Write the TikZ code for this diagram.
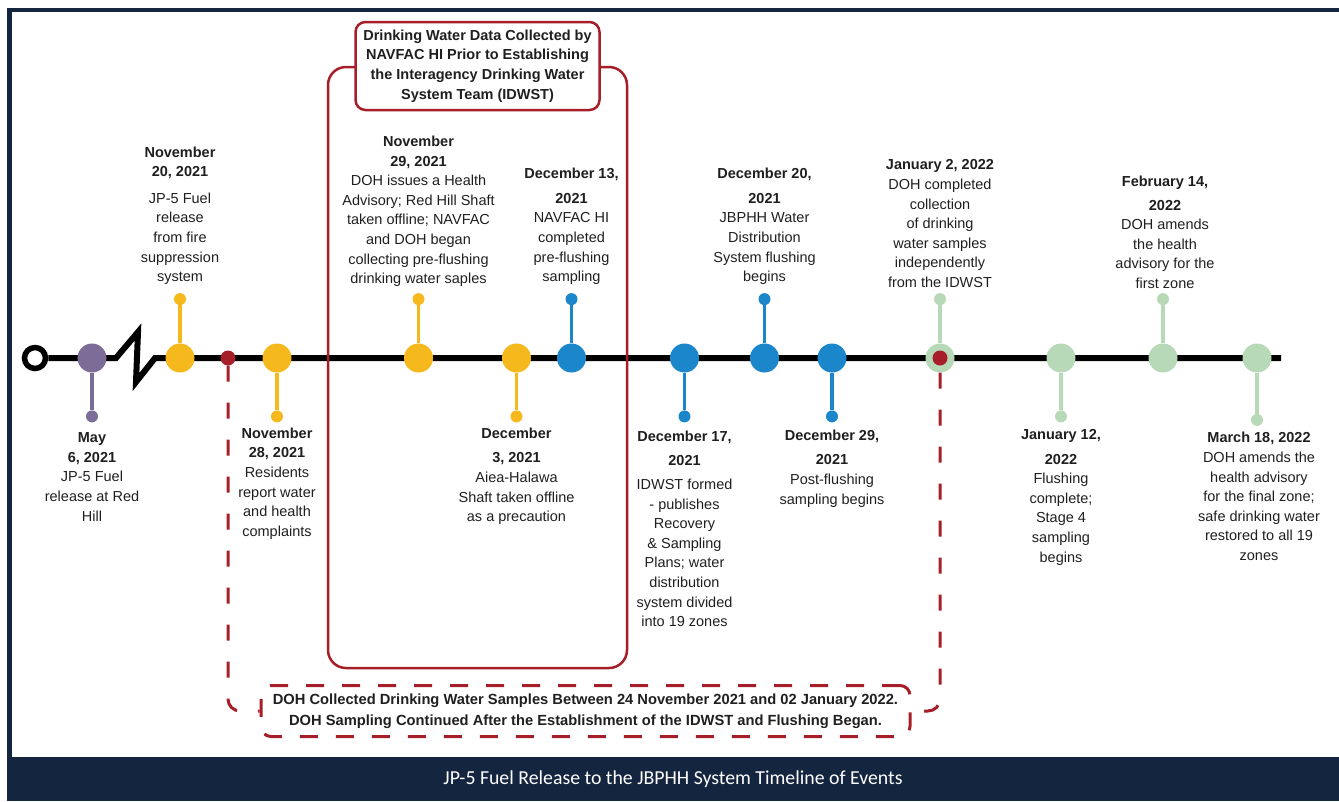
\documentclass[tikz,border=0pt]{standalone}
\usepackage{fontspec}
\setmainfont{Liberation Sans}
\newfontfamily\bannerfont{Carlito}
\usepackage{xcolor}
\usepackage{tikz}
\usetikzlibrary{positioning}
\usetikzlibrary{backgrounds}

\definecolor{navyband}{RGB}{20,37,64}
\definecolor{evpurple}{RGB}{126,108,152}
\definecolor{evgold}{RGB}{245,185,30}
\definecolor{evblue}{RGB}{28,134,202}
\definecolor{evgreen}{RGB}{183,217,184}
\definecolor{evred}{RGB}{165,30,40}

\begin{document}
\begin{tikzpicture}[
  x=1pt, y=-1pt,
  font=\fontsize{14.5}{19.6}\selectfont,
  text=black!88
]
\tikzset{
    bigdot/.style = {circle, inner sep=0pt, minimum size=29pt, fill=#1},
    tipdot/.style = {circle, inner sep=0pt, minimum size=12pt, fill=#1},
    reddot/.style = {circle, inner sep=0pt, minimum size=15pt, fill=evred},
    stemline/.style = {draw=#1, line width=3.5pt},
    evtext/.style = {align=center, inner sep=0pt},
    reddash/.style = {draw=evred, line width=3pt, dash pattern=on 16pt off 21pt, rounded corners=12pt}
}
\useasboundingbox (0,0) rectangle (1339,801);

% frame and caption band
\fill[navyband] (7,8) rectangle (1339,12);
\fill[navyband] (7,8) rectangle (12,760);
\node[fill=navyband, minimum width=1332pt, minimum height=44pt, inner sep=0pt, text=white,
  font=\bannerfont\fontsize{19.8}{22}\selectfont] (banner) at (673,779)
  {JP-5 Fuel Release to the JBPHH System Timeline of Events};

% NAVFAC box
\draw[evred, line width=2.5pt, rounded corners=18pt] (328,67) rectangle (627,668);
\node[draw=evred, line width=2.5pt, rounded corners=10pt, fill=white, minimum width=244pt,
  minimum height=88pt, evtext, font=\bfseries\fontsize{14.5}{19.8}\selectfont] (navfac) at (477.5,66)
  {Drinking Water Data Collected by\\NAVFAC HI Prior to Establishing\\the Interagency Drinking Water\\System Team (IDWST)};

% DOH box
\node[draw=evred, line width=3pt, dash pattern=on 18pt off 18pt, rounded corners=10pt, minimum width=649pt,
  minimum height=51pt, evtext, font=\bfseries\fontsize{14.7}{21}\selectfont] (doh) at (585.5,711)
  {DOH Collected Drinking Water Samples Between 24 November 2021 and 02 January 2022.\\DOH Sampling Continued After the Establishment of the IDWST and Flushing Began.};

% timeline
\node[circle, draw=black, line width=5.5pt, fill=white, minimum size=21pt, inner sep=0pt] (start) at (35,358) {};
\node[bigdot=evpurple] (may6) at (92,358) {};
\node[bigdot=evgold] (nov20) at (180,358) {};
\node[reddot] (nov24) at (228,358) {};
\node[bigdot=evgold] (nov28) at (277,358) {};
\node[bigdot=evgold] (nov29) at (418.5,358) {};
\node[bigdot=evgold] (dec3) at (516.5,358) {};
\node[bigdot=evblue] (dec13) at (571.5,358) {};
\node[bigdot=evblue] (dec17) at (684.5,358) {};
\node[bigdot=evblue] (dec20) at (764.5,358) {};
\node[bigdot=evblue] (dec29) at (832,358) {};
\node[bigdot=evgreen] (jan2) at (940,358) {};
\node[reddot] (jan2doh) at (940,358) {};
\node[bigdot=evgreen] (jan12) at (1061,358) {};
\node[bigdot=evgreen] (feb14) at (1163,358) {};
\node[bigdot=evgreen] (mar18) at (1257,358) {};
\coordinate (brka) at (116,358);
\coordinate (brkb) at (138,332);
\coordinate (brkc) at (136,382);
\coordinate (brkd) at (155,358);
\coordinate (lineend) at (1281,358);

\begin{scope}[on background layer]
\draw[line width=6pt, line join=miter] (start) -- (brka) -- (brkb) -- (brkc) -- (brkd) -- (lineend);
\end{scope}

% stems
\node[tipdot=evpurple, below=37.5pt of may6] (may6tip) {};
\node[tipdot=evgold, above=38pt of nov20] (nov20tip) {};
\node[tipdot=evgold, below=37.5pt of nov28] (nov28tip) {};
\node[tipdot=evgold, above=38pt of nov29] (nov29tip) {};
\node[tipdot=evgold, below=37.5pt of dec3] (dec3tip) {};
\node[tipdot=evblue, above=38pt of dec13] (dec13tip) {};
\node[tipdot=evblue, below=37.5pt of dec17] (dec17tip) {};
\node[tipdot=evblue, above=38pt of dec20] (dec20tip) {};
\node[tipdot=evblue, below=37.5pt of dec29] (dec29tip) {};
\node[tipdot=evgreen, above=38pt of jan2] (jan2tip) {};
\node[tipdot=evgreen, below=37.5pt of jan12] (jan12tip) {};
\node[tipdot=evgreen, above=38pt of feb14] (feb14tip) {};
\node[tipdot=evgreen, below=41pt of mar18] (mar18tip) {};
\draw[stemline=evpurple] (may6) -- (may6tip);
\draw[stemline=evgold] (nov20) -- (nov20tip);
\draw[stemline=evgold] (nov28) -- (nov28tip);
\draw[stemline=evgold] (nov29) -- (nov29tip);
\draw[stemline=evgold] (dec3) -- (dec3tip);
\draw[stemline=evblue] (dec13) -- (dec13tip);
\draw[stemline=evblue] (dec17) -- (dec17tip);
\draw[stemline=evblue] (dec20) -- (dec20tip);
\draw[stemline=evblue] (dec29) -- (dec29tip);
\draw[stemline=evgreen] (jan2) -- (jan2tip);
\draw[stemline=evgreen] (jan12) -- (jan12tip);
\draw[stemline=evgreen] (feb14) -- (feb14tip);
\draw[stemline=evgreen] (mar18) -- (mar18tip);

% DOH bracket
\draw[reddash] (nov24) |- (doh.west);
\draw[reddash] (jan2) |- (doh.east);

% event texts
\node[evtext, below=10pt of may6tip] (may6txt) {\textbf{May}\\\textbf{6, 2021}\\JP-5 Fuel\\release at Red\\Hill};
\node[evtext, above=8pt of nov20tip] (nov20txt) {\textbf{November}\\\textbf{20, 2021}\\[6.8pt]JP-5 Fuel\\release\\from fire\\suppression\\system};
\node[evtext, below=5pt of nov28tip] (nov28txt) {\textbf{November}\\\textbf{28, 2021}\\Residents\\report water\\and health\\complaints};
\node[evtext, above=6pt of nov29tip] (nov29txt) {\textbf{November}\\\textbf{29, 2021}\\DOH issues a Health\\Advisory; Red Hill Shaft\\taken offline; NAVFAC\\and DOH began\\collecting pre-flushing\\drinking water saples};
\node[evtext, below=5pt of dec3tip] (dec3txt) {\textbf{December}\\[5pt]\textbf{3, 2021}\\Aiea-Halawa\\Shaft taken offline\\as a precaution};
\node[evtext, above=8pt of dec13tip] (dec13txt) {\textbf{December 13,}\\[5pt]\textbf{2021}\\NAVFAC HI\\completed\\pre-flushing\\sampling};
\node[evtext, below=8pt of dec17tip] (dec17txt) {\textbf{December 17,}\\[5pt]\textbf{2021}\\[4pt]IDWST formed\\- publishes\\Recovery\\\& Sampling\\Plans; water\\distribution\\system divided\\into 19 zones};
\node[evtext, above=8pt of dec20tip] (dec20txt) {\textbf{December 20,}\\[5pt]\textbf{2021}\\JBPHH Water\\Distribution\\System flushing\\begins};
\node[evtext, below=7pt of dec29tip] (dec29txt) {\textbf{December 29,}\\[5pt]\textbf{2021}\\Post-flushing\\sampling begins};
\node[evtext, above=5pt of jan2tip] (jan2txt) {\textbf{January 2, 2022}\\DOH completed\\collection\\of drinking\\water samples\\independently\\from the IDWST};
\node[evtext, below=6.5pt of jan12tip] (jan12txt) {\textbf{January 12,}\\[5pt]\textbf{2022}\\Flushing\\complete;\\Stage 4\\sampling\\begins};
\node[evtext, above=4pt of feb14tip, xshift=2pt] (feb14txt) {\textbf{February 14,}\\[4.5pt]\textbf{2022}\\DOH amends\\the health\\advisory for the\\first zone};
\node[evtext, below=6pt of mar18tip, xshift=2pt] (mar18txt) {\textbf{March 18, 2022}\\DOH amends the\\health advisory\\for the final zone;\\safe drinking water\\restored to all 19\\zones};
\end{tikzpicture}
\end{document}
